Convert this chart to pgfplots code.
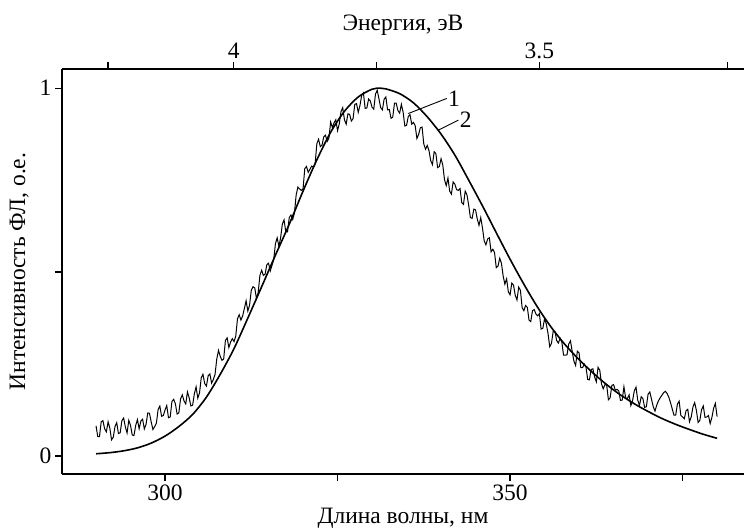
\documentclass[border=0pt]{standalone}
\usepackage{fontspec}
\setmainfont{Liberation Serif}
\usepackage{pgfplots}
\usepackage{pgfplotstable}
\pgfplotsset{compat=1.18}

% measured PL spectrum (curve 1)
\pgfplotstableread{
lam v
290 0.082
290.25 0.053
290.5 0.0525
290.75 0.093
291 0.096
291.25 0.074
291.5 0.0655
291.75 0.093
292 0.076
292.25 0.044
292.5 0.051
292.75 0.080
293 0.0905
293.25 0.061
293.5 0.063
293.75 0.096
294 0.103
294.25 0.079
294.5 0.0625
294.75 0.097
295 0.083
295.25 0.057
295.5 0.0555
295.75 0.083
296 0.099
296.25 0.074
296.5 0.095
296.75 0.100
297 0.0735
297.25 0.086
297.5 0.117
297.75 0.116
298 0.092
298.25 0.072
298.5 0.080
298.75 0.089
299 0.1265
299.25 0.136
299.5 0.108
299.75 0.110
300 0.125
300.25 0.137
300.5 0.104
300.75 0.106
301 0.148
301.25 0.154
301.5 0.142
301.75 0.114
302 0.117
302.25 0.155
302.5 0.166
302.75 0.150
303 0.1415
303.25 0.174
303.5 0.158
303.75 0.136
304 0.138
304.25 0.169
304.5 0.188
304.75 0.157
305 0.1715
305.25 0.213
305.5 0.222
305.75 0.197
306 0.190
306.25 0.218
306.5 0.223
306.75 0.198
307 0.208
307.25 0.222
307.5 0.264
307.75 0.287
308 0.271
308.25 0.260
308.5 0.2635
308.75 0.314
309 0.321
309.25 0.295
309.5 0.3095
309.75 0.319
310 0.311
310.25 0.326
310.5 0.373
310.75 0.384
311 0.3695
311.25 0.381
311.5 0.401
311.75 0.422
312 0.394
312.25 0.410
312.5 0.4505
312.75 0.460
313 0.457
313.25 0.428
313.5 0.4445
313.75 0.491
314 0.505
314.25 0.491
314.5 0.494
314.75 0.520
315 0.524
315.25 0.503
315.5 0.518
315.75 0.534
316 0.577
316.25 0.593
316.5 0.570
316.75 0.593
317 0.6305
317.25 0.642
317.5 0.609
317.75 0.609
318 0.648
318.25 0.655
318.5 0.643
318.75 0.660
319 0.709
319.25 0.731
319.5 0.726
319.75 0.722
320 0.726
320.25 0.781
320.5 0.787
320.75 0.771
321 0.7795
321.25 0.788
321.5 0.785
321.75 0.794
322 0.849
322.25 0.861
322.5 0.841
322.75 0.845
323 0.8675
323.25 0.872
323.5 0.855
323.75 0.864
324 0.908
324.25 0.893
324.5 0.906
324.75 0.914
325 0.8845
325.25 0.903
325.5 0.936
325.75 0.947
326 0.914
326.25 0.902
326.5 0.930
326.75 0.929
327 0.9105
327.25 0.917
327.5 0.956
327.75 0.958
328 0.934
328.25 0.953
328.5 0.9805
328.75 0.987
329 0.945
329.25 0.946
329.5 0.9705
329.75 0.965
330 0.948
330.25 0.943
330.5 0.984
330.75 0.994
331 0.971
331.25 0.947
331.5 0.941
331.75 0.970
332 0.976
332.25 0.941
332.5 0.942
332.75 0.918
333 0.921
333.25 0.959
333.5 0.959
333.75 0.939
334 0.932
334.25 0.956
334.5 0.935
334.75 0.897
335 0.899
335.25 0.923
335.5 0.928
335.75 0.902
336 0.907
336.25 0.898
336.5 0.863
336.75 0.874
337 0.8925
337.25 0.894
337.5 0.848
337.75 0.834
338 0.844
338.25 0.830
338.5 0.803
338.75 0.792
339 0.827
339.25 0.822
339.5 0.784
339.75 0.787
340 0.808
340.25 0.791
340.5 0.751
340.75 0.735
341 0.7555
341.25 0.720
341.5 0.712
341.75 0.745
342 0.739
342.25 0.724
342.5 0.722
342.75 0.727
343 0.6885
343.25 0.684
343.5 0.720
343.75 0.710
344 0.682
344.25 0.648
344.5 0.646
344.75 0.671
345 0.669
345.25 0.644
345.5 0.627
345.75 0.648
346 0.620
346.25 0.585
346.5 0.574
346.75 0.590
347 0.593
347.25 0.555
347.5 0.562
347.75 0.553
348 0.512
348.25 0.516
348.5 0.5375
348.75 0.524
349 0.489
349.25 0.467
349.5 0.4815
349.75 0.446
350 0.438
350.25 0.470
350.5 0.4645
350.75 0.437
351 0.424
351.25 0.459
351.5 0.4505
351.75 0.403
352 0.395
352.25 0.409
352.5 0.404
352.75 0.369
353 0.3655
353.25 0.395
353.5 0.398
353.75 0.386
354 0.381
354.25 0.387
354.5 0.345
354.75 0.347
355 0.3735
355.25 0.359
355.5 0.333
355.75 0.297
356 0.306
356.25 0.339
356.5 0.339
356.75 0.314
357 0.307
357.25 0.320
357.5 0.310
357.75 0.274
358 0.274
358.25 0.275
358.5 0.304
358.75 0.313
359 0.2845
359.25 0.258
359.5 0.246
359.75 0.285
360 0.280
360.25 0.240
360.5 0.240
360.75 0.250
361 0.2415
361.25 0.208
361.5 0.207
361.75 0.235
362 0.237
362.25 0.215
362.5 0.2015
362.75 0.241
363 0.233
363.25 0.196
363.5 0.1825
363.75 0.194
364 0.193
364.25 0.153
364.5 0.158
364.75 0.192
365 0.194
365.25 0.179
365.5 0.181
365.75 0.177
366 0.151
366.25 0.152
366.5 0.188
366.75 0.158
367 0.156
367.25 0.166
367.5 0.137
367.75 0.150
368 0.177
368.25 0.187
368.5 0.152
368.75 0.137
369 0.161
369.25 0.156
369.5 0.132
369.75 0.134
370 0.168
370.25 0.174
370.5 0.154
370.75 0.134
371 0.122
371.25 0.138
371.5 0.150
371.75 0.158
372 0.165
372.25 0.172
372.5 0.176
372.75 0.170
373 0.160
373.25 0.145
373.5 0.128
373.75 0.111
374 0.111
374.25 0.141
374.5 0.149
374.75 0.110
375 0.106
375.25 0.101
375.5 0.123
375.75 0.127
376 0.093
376.25 0.106
376.5 0.133
376.75 0.145
377 0.124
377.25 0.091
377.5 0.097
377.75 0.126
378 0.136
378.25 0.105
378.5 0.106
378.75 0.110
379 0.088
379.25 0.105
379.5 0.130
379.75 0.143
380 0.107
}\measured

% fitted curve (curve 2)
\pgfplotstableread{
lam v
290 0.006
292 0.009
294 0.014
296 0.022
298 0.035
300 0.054
302 0.080
304 0.113
306 0.160
308 0.222
310 0.292
312 0.375
314 0.460
316 0.546
318 0.630
320 0.720
322 0.805
324 0.880
326 0.937
328 0.976
330 0.997
331.2 1.000
332 0.998
334 0.985
336 0.960
338 0.922
340 0.875
342 0.818
344 0.750
346 0.680
348 0.607
350 0.535
352 0.467
354 0.404
356 0.349
358 0.302
360 0.262
362 0.226
364 0.194
366 0.166
368 0.142
370 0.121
372 0.102
374 0.086
376 0.072
378 0.059
380 0.048
}\fitted

\newcommand{\lbl}{\fontsize{23.5}{28}\selectfont}

\begin{document}
\begin{tikzpicture}
\pgfplotsset{
  base/.style={
    scale only axis, width=682pt, height=405pt,
    xmin=285.07, xmax=383.9, ymin=-0.049, ymax=1.052,
    axis line style={-, line width=1.2pt},
    tick style={line width=1.2pt, black},
    tick align=outside, major tick length=7pt,
    ticklabel style={font=\lbl},
    label style={font=\lbl},
    /pgf/number format/assume math mode=true,
  }
}
\begin{axis}[base,
  axis x line*=bottom, axis y line*=left,
  xtick={300,325,350,375}, xticklabels={300,,350,},
  ytick={0,0.5,1}, yticklabels={0,,1},
  xlabel={Длина волны, нм},
  ylabel={Интенсивность ФЛ, о.е.},
  xlabel style={yshift=-1pt},
  ylabel style={yshift=4pt},
]
\addplot[black, line width=1.0pt] table[x=lam, y=v] {\measured};
\addplot[black, line width=1.6pt, smooth] table[x=lam, y=v] {\fitted};
\draw[line width=0.9pt] (axis cs:335.26,0.931) -- (axis cs:340.83,0.972)
  node[anchor=west, inner sep=1pt, font=\lbl] {1};
\draw[line width=0.9pt] (axis cs:339.61,0.886) -- (axis cs:342.51,0.913)
  node[anchor=west, inner sep=1pt, font=\lbl] {2};
\coordinate (sw) at (rel axis cs:0,0);
\coordinate (ne) at (rel axis cs:1,1);
\end{axis}
\begin{axis}[base,
  axis x line*=top, axis y line=none,
  xtick={291.73,309.96,330.62,354.24,381.49},
  xticklabels={,4,,3.5,},
  xlabel={Энергия, эВ},
  xlabel style={yshift=0pt},
]
\end{axis}
\pgfresetboundingbox
\path ([shift={(-62pt,-57pt)}]sw) rectangle ([shift={(0pt,69pt)}]ne);
\end{tikzpicture}
\end{document}
